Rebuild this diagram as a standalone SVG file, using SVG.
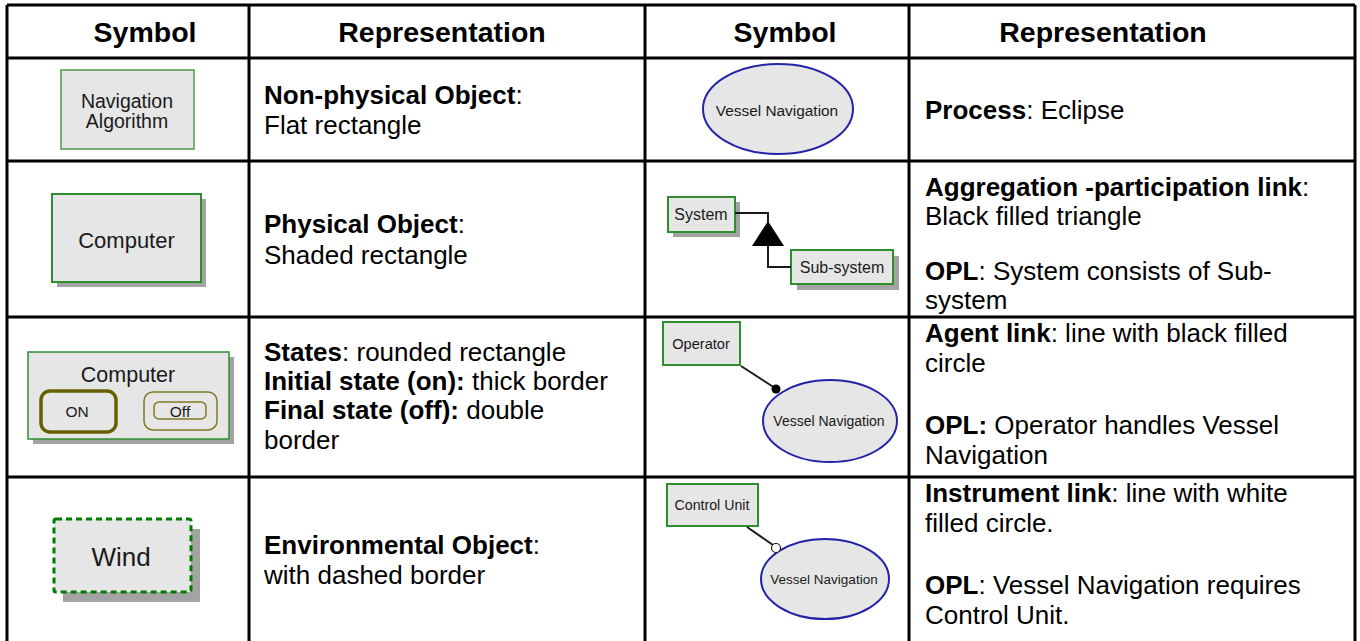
<svg xmlns="http://www.w3.org/2000/svg" width="1360" height="641" viewBox="0 0 1360 641">
<style>
text{font-family:"Liberation Sans",Arial,sans-serif;fill:#000}
.hd{font-size:28.5px;font-weight:bold;text-anchor:middle}
.bd{font-size:26px}
.b{font-weight:bold}
.obj{fill:#e6e6e6;stroke:#2f8f2f;stroke-width:2}
.sh{fill:#a3a3a3}
.proc{fill:#e6e6e6;stroke:#2323a8;stroke-width:2}
.lbl{text-anchor:middle;fill:#1a1a1a}
.grid{stroke:#000;stroke-width:3;fill:none}
.link{stroke:#1a1a1a;stroke-width:2;fill:none}
</style>
<rect x="0" y="0" width="1360" height="641" fill="#fff"/>
<g id="grid">
<path class="grid" d="M7 5H1355M7 58H1355M7 161H1355M7 317H1355M7 477H1355M7 5V641M249 5V641M645 5V641M909 5V641M1355 5V641"/>
</g>
<g id="header">
<text class="hd" x="145" y="42">Symbol</text>
<text class="hd" x="442" y="42">Representation</text>
<text class="hd" x="785" y="42">Symbol</text>
<text class="hd" x="1103" y="42">Representation</text>
</g>
<g id="nonphysical">
<rect class="obj" x="61" y="70" width="133" height="79" style="stroke:#4a9a4a;stroke-width:1.5"/>
<text class="lbl" x="127" y="108" font-size="19.5">Navigation</text>
<text class="lbl" x="127" y="128" font-size="19.5">Algorithm</text>
</g>
<g id="physical">
<rect class="sh" x="57" y="199" width="149" height="88"/>
<rect class="obj" x="52" y="194" width="149" height="88"/>
<text class="lbl" x="126.5" y="248" font-size="22">Computer</text>
</g>
<g id="states">
<rect class="sh" x="33" y="357" width="201" height="87"/>
<rect class="obj" x="28" y="352" width="201" height="87" style="stroke-width:1.5"/>
<text class="lbl" x="128" y="382" font-size="21.5">Computer</text>
<rect x="41" y="391" width="75" height="41" rx="9" fill="none" stroke="#666100" stroke-width="3.5"/>
<text class="lbl" x="77" y="417" font-size="15.5">ON</text>
<rect x="144" y="392" width="73" height="38" rx="9" fill="none" stroke="#7f7a22" stroke-width="1.5"/>
<rect x="154" y="402" width="52" height="17" rx="5" fill="none" stroke="#7f7a22" stroke-width="1.5"/>
<text class="lbl" x="180" y="416.5" font-size="15.5">Off</text>
</g>
<g id="environmental">
<rect class="sh" x="63" y="529" width="137" height="73"/>
<rect x="54" y="519" width="137" height="73" rx="2" fill="#e6e6e6" stroke="#007a00" stroke-width="3" stroke-dasharray="6 4"/>
<text class="lbl" x="121" y="566" font-size="26">Wind</text>
</g>
<g id="text-left">
<text class="bd" x="264" y="104"><tspan class="b">Non-physical Object</tspan>:</text>
<text class="bd" x="264" y="134">Flat rectangle</text>
<text class="bd" x="264" y="233"><tspan class="b">Physical Object</tspan>:</text>
<text class="bd" x="264" y="264">Shaded rectangle</text>
<text class="bd" x="264" y="361"><tspan class="b">States</tspan>: rounded rectangle</text>
<text class="bd" x="264" y="390"><tspan class="b">Initial state (on):</tspan> thick border</text>
<text class="bd" x="264" y="419"><tspan class="b">Final state (off):</tspan> double</text>
<text class="bd" x="264" y="449">border</text>
<text class="bd" x="264" y="554"><tspan class="b">Environmental Object</tspan>:</text>
<text class="bd" x="264" y="584">with dashed border</text>
</g>
<g id="process">
<ellipse class="proc" cx="778" cy="109" rx="75" ry="45"/>
<text class="lbl" x="777" y="116" font-size="15.4">Vessel Navigation</text>
</g>
<g id="system">
<rect class="sh" x="673" y="202" width="67" height="35"/>
<rect class="obj" x="668" y="197" width="67" height="35"/>
<text class="lbl" x="701" y="220" font-size="16">System</text>
</g>
<g id="subsystem">
<rect class="sh" x="797" y="256" width="102" height="34"/>
<rect class="obj" x="791" y="250" width="102" height="34"/>
<text class="lbl" x="842" y="273" font-size="16">Sub-system</text>
</g>
<g id="operator">
<rect class="obj" x="663" y="322" width="77" height="43"/>
<text class="lbl" x="701" y="349" font-size="14.6">Operator</text>
</g>
<g id="vessel-agent">
<ellipse class="proc" cx="830" cy="421" rx="67" ry="41"/>
<text class="lbl" x="829" y="426" font-size="14">Vessel Navigation</text>
</g>
<g id="control-unit">
<rect class="obj" x="667" y="484" width="91" height="42"/>
<text class="lbl" x="712" y="510" font-size="14.2">Control Unit</text>
</g>
<g id="vessel-instrument">
<ellipse class="proc" cx="825" cy="579" rx="64" ry="40"/>
<text class="lbl" x="824" y="584" font-size="13.5">Vessel Navigation</text>
</g>
<g id="connectors">
<path class="link" d="M735 213H768V222"/>
<polygon points="768,221 752,246 784,246" fill="#000"/>
<path class="link" d="M768 246V267H791"/>
<line class="link" x1="741" y1="366" x2="775" y2="388"/>
<circle cx="776" cy="389" r="4.5" fill="#000"/>
<line class="link" x1="747" y1="527" x2="773" y2="545"/>
<circle cx="776" cy="548" r="4.5" fill="#fff" stroke="#1a1a1a" stroke-width="1.2"/>
</g>
<g id="text-right">
<text class="bd" x="925" y="119"><tspan class="b">Process</tspan>: Eclipse</text>
<text class="bd" x="925" y="196"><tspan class="b">Aggregation -participation link</tspan>:</text>
<text class="bd" x="925" y="225">Black filled triangle</text>
<text class="bd" x="925" y="280"><tspan class="b">OPL</tspan>: System consists of Sub-</text>
<text class="bd" x="925" y="309">system</text>
<text class="bd" x="925" y="342"><tspan class="b">Agent link</tspan>: line with black filled</text>
<text class="bd" x="925" y="372">circle</text>
<text class="bd" x="925" y="434"><tspan class="b">OPL:</tspan> Operator handles Vessel</text>
<text class="bd" x="925" y="464">Navigation</text>
<text class="bd" x="925" y="502"><tspan class="b">Instrument link</tspan>: line with white</text>
<text class="bd" x="925" y="532">filled circle.</text>
<text class="bd" x="925" y="594"><tspan class="b">OPL</tspan>: Vessel Navigation requires</text>
<text class="bd" x="925" y="624">Control Unit.</text>
</g>
</svg>
